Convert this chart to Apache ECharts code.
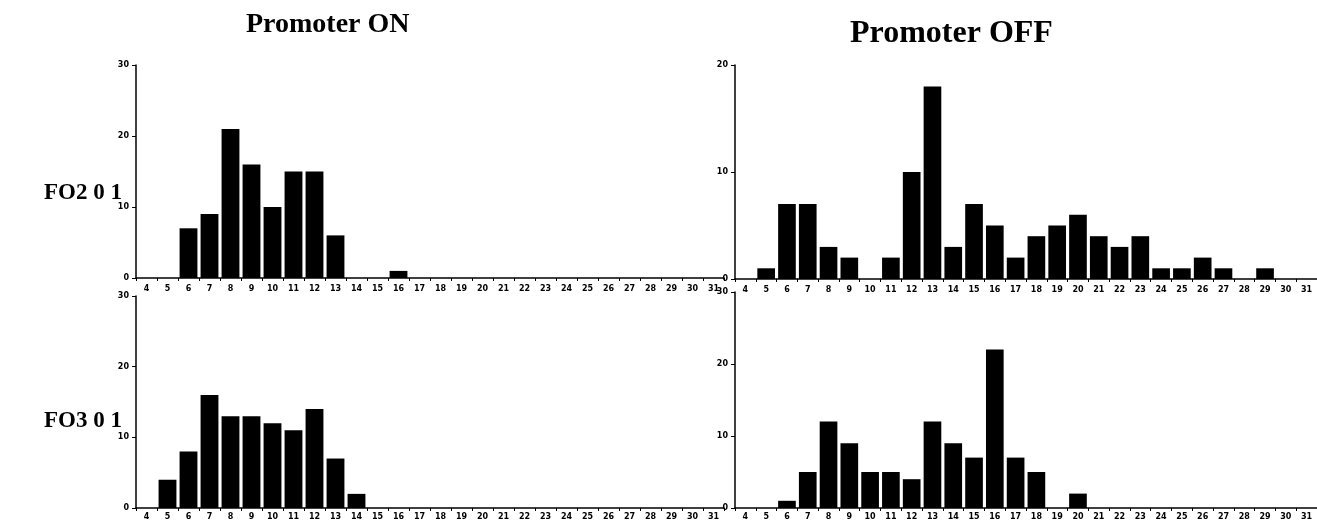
<!DOCTYPE html>
<html>
<head>
<meta charset="utf-8">
<script src="https://cdn.jsdelivr.net/npm/echarts@6/dist/echarts.min.js"></script>
<style>
html,body{margin:0;padding:0;background:#fff;}
#chart{width:1317px;height:522px;}
</style>
</head>
<body>
<div id="chart"></div>
<script>
const categories = ['4','5','6','7','8','9','10','11','12','13','14','15','16','17','18','19','20','21','22','23','24','25','26','27','28','29','30','31'];
const fo201On  = [0,0,7,9,21,16,10,15,15,6,0,0,1,0,0,0,0,0,0,0,0,0,0,0,0,0,0,0];
const fo201Off = [0,1,7,7,3,2,0,2,10,18,3,7,5,2,4,5,6,4,3,4,1,1,2,1,0,1,0,0];
const fo301On  = [0,4,8,16,13,13,12,11,14,7,2,0,0,0,0,0,0,0,0,0,0,0,0,0,0,0,0,0];
const fo301Off = [0,0,1,5,12,9,5,5,4,12,9,7,22,7,5,0,2,0,0,0,0,0,0,0,0,0,0,0];
const yMaxes = [30, 20, 30, 30];
const columnTitles = ['Promoter ON', 'Promoter OFF'];
const rowTitles = ['FO2 0 1', 'FO3 0 1'];

const chart = echarts.init(document.getElementById('chart'));
const grids = [
  {left:136, top:65,  width:588, height:213},
  {left:735, top:65,  width:588, height:214},
  {left:136, top:296, width:588, height:212},
  {left:735, top:292, width:588, height:216}
];
const seriesData = [fo201On, fo201Off, fo301On, fo301Off];
const tickFont = {fontFamily:'DejaVu Sans', fontWeight:'bold', fontSize:8, color:'#000'};
const xAxes = grids.map((g,i)=>({
  type:'category', gridIndex:i, data:categories,
  axisLine:{lineStyle:{color:'#000', width:1.5}},
  axisTick:{show:true, length:3, lineStyle:{color:'#000', width:1}},
  axisLabel:Object.assign({interval:0, margin: i<2 ? 7 : 5}, tickFont),
  splitLine:{show:false}
}));
const yAxes = grids.map((g,i)=>({
  type:'value', gridIndex:i, min:0, max:yMaxes[i], interval:10,
  axisLine:{show:true, lineStyle:{color:'#000', width:1.5}},
  axisTick:{show:true, length:4, lineStyle:{color:'#000', width:1}},
  axisLabel:Object.assign({margin:7}, tickFont),
  splitLine:{show:false}
}));
const series = seriesData.map((d,i)=>({
  type:'bar', xAxisIndex:i, yAxisIndex:i, data:d,
  barCategoryGap:'15%',
  itemStyle:{color:'#000'},
  silent:true
}));
const titleStyle = {fontFamily:'Liberation Serif', fontWeight:'bold', color:'#000'};
chart.setOption({
  animation:false,
  backgroundColor:'#fff',
  title:[
    {text:columnTitles[0], left:241, top:6, textStyle:Object.assign({fontSize:28}, titleStyle)},
    {text:columnTitles[1], left:845, top:13, textStyle:Object.assign({fontSize:32}, titleStyle)},
    {text:rowTitles[0], left:39, top:177, textStyle:Object.assign({fontSize:23}, titleStyle)},
    {text:rowTitles[1], left:39, top:405, textStyle:Object.assign({fontSize:23}, titleStyle)}
  ],
  grid:grids,
  xAxis:xAxes,
  yAxis:yAxes,
  series:series
});
</script>
</body>
</html>
